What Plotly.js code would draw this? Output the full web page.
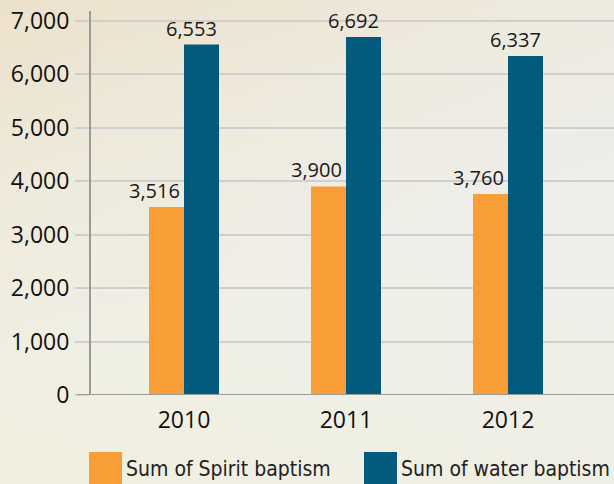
<!DOCTYPE html>
<html>
<head>
<meta charset="utf-8">
<script src="https://cdn.plot.ly/plotly-3.0.1.min.js"></script>
<style>
html,body{margin:0;padding:0;width:614px;height:484px;overflow:hidden;}
body{background:
  linear-gradient(160deg,rgba(236,224,200,0.9) 0%,rgba(238,232,214,0.6) 30%,rgba(239,238,232,0) 55%),
  linear-gradient(20deg,#f1efdf 0%,#f0efe6 35%,#eeeeea 70%,#ededea 100%);}
#chart{width:614px;height:484px;}
</style>
</head>
<body>
<div id="chart"></div>
<script>
const categories = ["2010", "2011", "2012"];
const seriesNames = ["Sum of Spirit baptism", "Sum of water baptism"];
const spiritValues = [3516, 3900, 3760];
const waterValues = [6553, 6692, 6337];
const yTickValues = [0, 1000, 2000, 3000, 4000, 5000, 6000, 7000];
const yTickLabels = ["0", "1,000", "2,000", "3,000", "4,000", "5,000", "6,000", "7,000"];

const colors = ["#F99D37", "#025B7C"];
const W = 614, H = 484, L = 91, R = 0, T = 11, B = 89;
const pw = W - L - R, ph = H - T - B;
const catPx = 162, firstCenter = 184;

const traces = [spiritValues, waterValues].map((vals, i) => ({
  type: "bar",
  name: seriesNames[i],
  x: [0, 1, 2],
  y: vals,
  marker: {color: colors[i]},
  hoverinfo: "none"
}));

const fmt = v => v.toLocaleString("en-US");
const annotations = [];
[spiritValues, waterValues].forEach((vals, i) => {
  vals.forEach((v, j) => {
    annotations.push({
      x: j, y: v, xref: "x", yref: "y",
      text: fmt(v), showarrow: false,
      xanchor: "center", yanchor: "bottom",
      xshift: i === 0 ? -30 : 7, yshift: 1,
      font: {family: "Open Sans, sans-serif", size: 20, color: "#1a1a1a"}
    });
  });
});

// custom legend
const px2x = p => (p - L) / pw;
const py2y = p => (H - B - p) / ph;
const legendX = [89, 364];
const shapes = [];
seriesNames.forEach((n, i) => {
  shapes.push({type: "rect", xref: "paper", yref: "paper",
    x0: px2x(legendX[i]), x1: px2x(legendX[i] + 33),
    y0: py2y(452), y1: py2y(484),
    fillcolor: colors[i], line: {width: 0}});
  annotations.push({xref: "paper", yref: "paper",
    x: px2x(legendX[i] + 35), y: py2y(469),
    text: n, showarrow: false, xanchor: "left", yanchor: "middle",
    font: {family: "DejaVu Sans Condensed, sans-serif", size: 21, color: "#222"}});
});
// zero line extension into tick area
shapes.push({type: "line", xref: "paper", yref: "y",
  x0: px2x(77), x1: 1, y0: 0, y1: 0,
  line: {color: "#9a9a9a", width: 2}});

const layout = {
  width: W, height: H,
  margin: {l: L, r: R, t: T, b: B, pad: 0},
  paper_bgcolor: "rgba(0,0,0,0)",
  plot_bgcolor: "rgba(0,0,0,0)",
  showlegend: false,
  barmode: "group",
  bargap: 0.568,
  bargroupgap: 0,
  xaxis: {
    range: [(L - firstCenter) / catPx, (W - R - firstCenter) / catPx],
    tickmode: "array", tickvals: [0, 1, 2], ticktext: categories,
    showgrid: false, zeroline: false, showline: false, ticks: "",
    tickfont: {family: "Open Sans, sans-serif", size: 23, color: "#111"},
    ticklabelstandoff: 9
  },
  yaxis: {
    range: [0, 7180],
    tickmode: "array", tickvals: yTickValues, ticktext: yTickLabels,
    showgrid: true, gridcolor: "#cfcfcf", gridwidth: 2,
    zeroline: false,
    showline: true, linecolor: "#9a9a9a", linewidth: 2,
    ticks: "outside", ticklen: 14, tickwidth: 2, tickcolor: "#cfcfcf",
    tickfont: {family: "Open Sans, sans-serif", size: 23, color: "#111"},
    ticklabelstandoff: 1
  },
  annotations: annotations,
  shapes: shapes
};

Plotly.newPlot("chart", traces, layout, {displayModeBar: false, staticPlot: true});
</script>
</body>
</html>
